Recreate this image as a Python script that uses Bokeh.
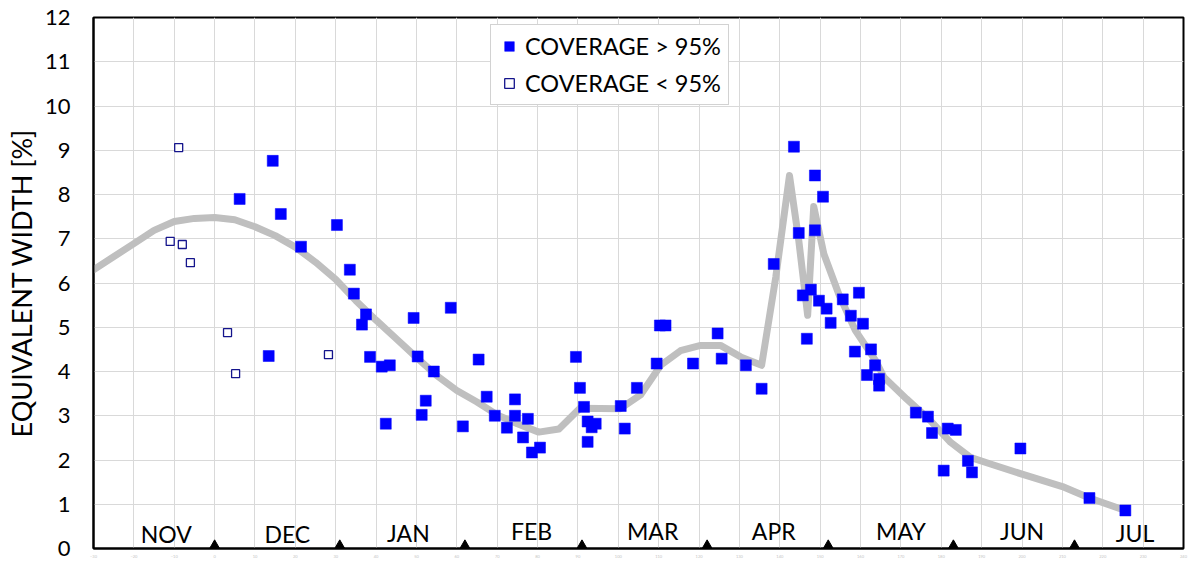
from bokeh.plotting import figure
from bokeh.models import Range1d, SingleIntervalTicker, Legend, LegendItem
from bokeh.embed import file_html
from bokeh.resources import INLINE
from bokeh.core.properties import value

# ---- data (days counted from 1 December) ----
hi_day = [6.2, 13.4, 14.4, 16.4, 21.4, 30.3, 33.5, 34.5, 36.5, 37.5, 38.5, 41.4, 42.4, 43.4,
          49.3, 50.3, 51.3, 52.3, 54.3, 58.5, 61.5, 65.4, 67.4, 69.4, 72.4, 74.4, 74.4, 76.4,
          77.6, 78.6, 80.6, 89.5, 90.5, 91.5, 92.4, 93.4, 94.4, 92.4, 100.6, 101.6, 104.6,
          109.5, 110.3, 111.7, 118.5, 124.6, 125.6, 131.6, 135.5, 138.5, 143.5, 144.7, 145.7,
          146.7, 147.7, 148.7, 148.7, 149.7, 150.7, 151.6, 152.6, 155.6, 157.6, 158.6, 159.6,
          160.6, 161.6, 162.6, 163.6, 164.6, 164.6, 173.7, 176.7, 177.7, 180.6, 181.6, 183.6,
          186.6, 187.6, 199.6, 216.7, 225.6]
hi_val = [7.90, 4.35, 8.76, 7.56, 6.82, 7.31, 6.30, 5.76, 5.06, 5.29, 4.33, 4.11, 2.82, 4.14,
          5.21, 4.34, 3.02, 3.34, 4.00, 5.44, 2.76, 4.27, 3.43, 3.00, 2.73, 3.37, 3.00, 2.51,
          2.93, 2.17, 2.28, 4.33, 3.63, 3.20, 2.87, 2.74, 2.82, 2.41, 3.22, 2.71, 3.63,
          4.18, 5.04, 5.04, 4.18, 4.86, 4.29, 4.14, 3.61, 6.43, 9.08, 7.13, 5.72,
          4.74, 5.85, 8.43, 7.19, 5.60, 7.95, 5.42, 5.10, 5.63, 5.26, 4.45, 5.78,
          5.08, 3.92, 4.50, 4.14, 3.83, 3.68, 3.07, 2.98, 2.61, 1.76, 2.71, 2.68,
          1.98, 1.72, 2.26, 1.14, 0.86]

lo_day = [-11.0, -8.9, -8.0, -6.0, 3.2, 5.2, 28.2]
lo_val = [6.94, 9.06, 6.87, 6.46, 4.88, 3.95, 4.38]

trend_day = [-30, -20, -15, -10, -5, 0, 5, 10, 15, 20, 25, 30, 35, 40, 45, 50, 55, 60, 65,
             70, 75, 80.3, 85.3, 90.5, 100.5, 105.5, 110.5, 115.4, 120.4, 125.3, 130.3, 135.5,
             139.0, 142.4, 144.7, 146.9, 148.4, 150.9, 154.6, 158.7, 163.7, 165.8, 171.4,
             177.3, 182.3, 187.2, 192.2, 200, 210, 216.7, 225.6]
trend_val = [6.30, 6.89, 7.19, 7.39, 7.46, 7.48, 7.43, 7.27, 7.07, 6.81, 6.47, 6.08, 5.60,
             5.16, 4.74, 4.32, 3.91, 3.57, 3.31, 3.02, 2.82, 2.63, 2.70, 3.17, 3.16, 3.47,
             4.14, 4.47, 4.59, 4.59, 4.33, 4.14, 6.13, 8.43, 6.96, 5.27, 7.73, 6.66, 5.75,
             4.93, 4.25, 3.87, 3.38, 2.89, 2.40, 2.06, 1.91, 1.68, 1.40, 1.14, 0.86]

month_names = ["NOV", "DEC", "JAN", "FEB", "MAR", "APR", "MAY", "JUN", "JUL"]
month_label_day = [-12, 18, 48, 78.5, 108.5, 138.5, 170, 200, 228]
month_label_val = [0.32, 0.32, 0.36, 0.39, 0.40, 0.40, 0.40, 0.40, 0.35]
month_start_day = [0, 31, 62, 91, 122, 152, 183, 213]

FONT = "Lato"

p = figure(width=1193, height=564, x_range=Range1d(-30, 240), y_range=Range1d(0, 12),
           output_backend="svg", toolbar_location=None,
           min_border_left=93, min_border_right=10, min_border_top=17, min_border_bottom=16)
p.background_fill_color = "white"
p.border_fill_color = "white"
p.outline_line_color = "black"
p.outline_line_width = 2

xt = SingleIntervalTicker(interval=10)
yt = SingleIntervalTicker(interval=1)
p.xaxis.ticker = xt
p.yaxis.ticker = yt
p.xgrid.ticker = xt
p.ygrid.ticker = yt
p.grid.grid_line_color = "#d9d9d9"
p.grid.grid_line_width = 1

for ax in (p.xaxis, p.yaxis):
    ax.axis_line_color = "black"
    ax.axis_line_width = 2
    ax.major_tick_out = 0
    ax.major_tick_in = 0
    ax.minor_tick_out = 0
    ax.minor_tick_in = 0

p.xaxis.major_label_text_font_size = "4px"
p.xaxis.major_label_text_color = "#c4c4c4"
p.xaxis.major_label_standoff = 6
p.xaxis.major_label_text_font = FONT

p.yaxis.major_label_text_font = FONT
p.yaxis.major_label_text_font_size = "22px"
p.yaxis.major_label_text_color = "black"
p.yaxis.major_label_standoff = 23
p.yaxis.axis_label = "EQUIVALENT WIDTH [%]"
p.yaxis.axis_label_text_font = FONT
p.yaxis.axis_label_text_font_size = "27px"
p.yaxis.axis_label_text_font_style = "normal"
p.yaxis.axis_label_text_color = "black"
p.yaxis.axis_label_standoff = 4

p.line(trend_day, trend_val, line_color="#bfbfbf", line_width=7, line_join="round", line_cap="round")

r_hi = p.scatter(hi_day, hi_val, marker="square", size=11, fill_color="#0000ff", line_color="#0000ff", line_width=0.5)
r_lo = p.scatter(lo_day, lo_val, marker="square", size=8, fill_color="white", line_color="#14148c", line_width=1.3)

p.text(x=month_label_day, y=month_label_val, text=month_names, text_align="center",
       text_baseline="middle", text_font=value(FONT), text_font_size="23px", text_color="black")

tri_val = [0.065] * len(month_start_day)
p.scatter(month_start_day, tri_val, marker="triangle", size=10, fill_color="black", line_color="black")

legend = Legend(items=[LegendItem(label="COVERAGE > 95%", renderers=[r_hi]),
                       LegendItem(label="COVERAGE < 95%", renderers=[r_lo])],
                location=(397, 443))
legend.label_text_font = FONT
legend.label_text_font_size = "23.5px"
legend.label_text_color = "black"
legend.glyph_width = 24
legend.glyph_height = 30
legend.label_height = 30
legend.label_width = 197
legend.label_standoff = 4
legend.spacing = 7
legend.padding = 6
legend.margin = 0
legend.border_line_color = "#a6a6a6"
legend.border_line_width = 1
legend.background_fill_color = "white"
legend.background_fill_alpha = 1
p.add_layout(legend, "center")

open("out.html", "w").write(file_html(p, INLINE))
